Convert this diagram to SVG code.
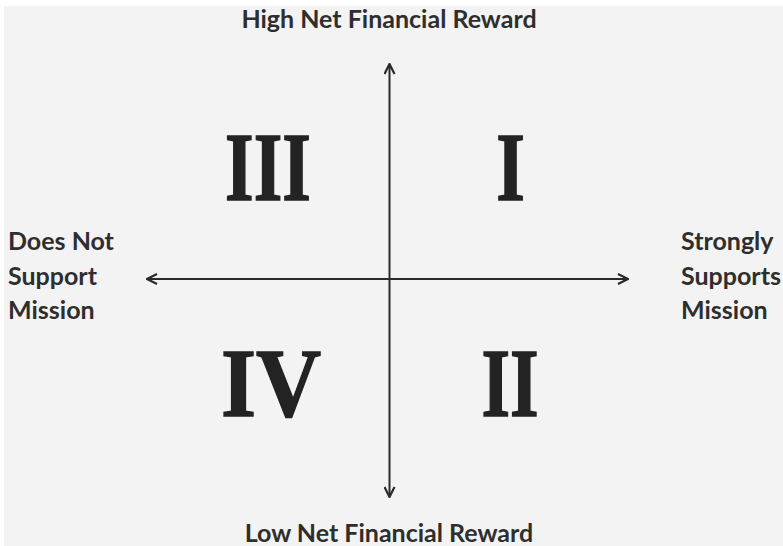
<svg xmlns="http://www.w3.org/2000/svg" width="783" height="546" viewBox="0 0 783 546">
<defs>
<style>
.lbl{font-family:Lato,"Liberation Sans",sans-serif;font-weight:bold;font-size:25px;fill:#2e2e2e}
.num{font-family:"Liberation Serif",serif;font-weight:bold;font-size:98px;fill:#232323;stroke:#232323;stroke-width:1.5;text-anchor:middle}
.axis{stroke:#2a2a2a;stroke-width:2;fill:none}
</style>
<marker id="ah" viewBox="0 0 12 12" refX="11" refY="6" markerWidth="12" markerHeight="12" markerUnits="userSpaceOnUse" orient="auto">
<path d="M1,1 L11,6 L1,11" fill="none" stroke="#2a2a2a" stroke-width="2.2" stroke-linejoin="miter"/>
</marker>
</defs>
<rect x="0" y="0" width="783" height="546" fill="#ffffff"/>
<rect x="4" y="6" width="779" height="540" fill="#f3f3f3"/>
<g id="connectors">
<line class="axis" x1="389.5" y1="279" x2="389.5" y2="64" marker-end="url(#ah)"/>
<line class="axis" x1="389.5" y1="279" x2="389.5" y2="497" marker-end="url(#ah)"/>
<line class="axis" x1="389.5" y1="279" x2="147" y2="279" marker-end="url(#ah)"/>
<line class="axis" x1="389.5" y1="279" x2="628" y2="279" marker-end="url(#ah)"/>
</g>
<g id="top-label"><text class="lbl" x="389" y="28" text-anchor="middle">High Net Financial Reward</text></g>
<g id="bottom-label"><text class="lbl" x="389" y="542" text-anchor="middle">Low Net Financial Reward</text></g>
<g id="left-label"><text class="lbl" x="8" y="250">Does Not</text><text class="lbl" x="8" y="285">Support</text><text class="lbl" x="8" y="319">Mission</text></g>
<g id="right-label"><text class="lbl" x="681" y="250">Strongly</text><text class="lbl" x="681" y="285">Supports</text><text class="lbl" x="681" y="319">Mission</text></g>
<g id="q3"><text class="num" transform="translate(268,200) scale(0.75,1)">III</text></g>
<g id="q1"><text class="num" transform="translate(510.5,200) scale(0.75,1)">I</text></g>
<g id="q4"><text class="num" transform="translate(271,416) scale(0.92,1)">IV</text></g>
<g id="q2"><text class="num" transform="translate(510,416) scale(0.75,1)">II</text></g>
</svg>
